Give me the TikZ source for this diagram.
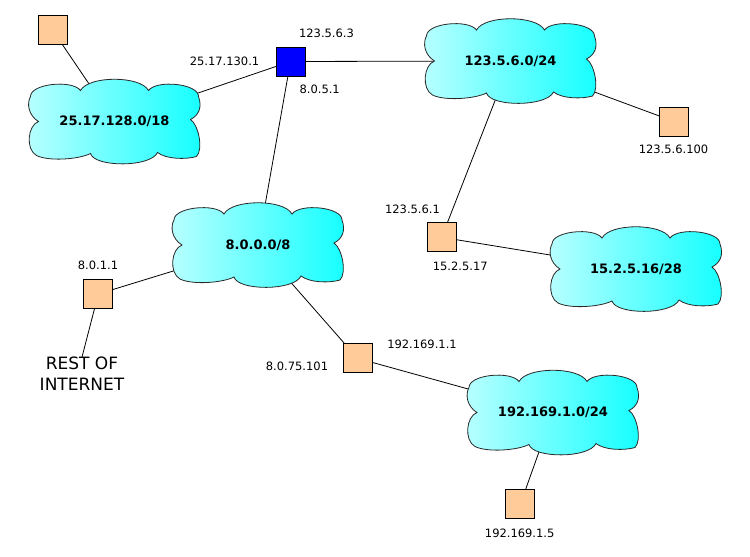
\documentclass[tikz,border=0pt]{standalone}
\usepackage{fontspec}
\setmainfont{DejaVu Sans}
\usetikzlibrary{backgrounds}
\definecolor{cloudlight}{RGB}{185,255,255}
\definecolor{clouddark}{RGB}{20,255,255}
\definecolor{peach}{RGB}{255,204,153}
\definecolor{cloudline}{RGB}{40,40,40}
\tikzset{
  x=1pt, y=-1pt,
  netcloud/.pic={
    \path[draw=cloudline, line width=0.8pt, shading=axis, left color=cloudlight, right color=clouddark]
      (-84,-25) .. controls (-84,-38) and (-42,-42) .. (-34,-31)
      .. controls (-26,-46) and (26,-46) .. (34,-31)
      .. controls (42,-42) and (84,-38) .. (84,-25)
      .. controls (88,-14) and (84,-6) .. (76,-2)
      .. controls (84,3) and (89,28) .. (82,35)
      .. controls (72,38) and (52,38) .. (43,31)
      .. controls (36,46) and (-20,46) .. (-24,32)
      .. controls (-36,38) and (-66,40) .. (-78,34)
      .. controls (-89,28) and (-87,4) .. (-76,0)
      .. controls (-86,-6) and (-88,-18) .. (-84,-25) -- cycle;
  },
  cloudlabel/.style={inner sep=0pt, font=\fontsize{13}{14}\selectfont\bfseries},
  hostbox/.style={draw=black, line width=1pt, fill=peach, minimum size=29pt, inner sep=0pt},
  routerbox/.style={hostbox, fill=blue},
  addr/.style={inner sep=0pt, font=\fontsize{11.5}{13}\selectfont},
  link/.style={draw=black, line width=0.8pt},
}
\begin{document}
\begin{tikzpicture}
\useasboundingbox (0,0) rectangle (750,557);

% clouds
\path (114.5,121.5) pic {netcloud} node[cloudlabel] (c1) {25.17.128.0/18};
\path (510.5,61) pic {netcloud} node[cloudlabel] (c2) {123.5.6.0/24};
\path (258,245) pic {netcloud} node[cloudlabel] (c3) {8.0.0.0/8};
\path (636,269) pic {netcloud} node[cloudlabel] (c4) {15.2.5.16/28};
\path (553,412.5) pic {netcloud} node[cloudlabel] (c5) {192.169.1.0/24};

% boxes
\node[hostbox] (h1) at (52.5,30) {};
\node[routerbox] (r) at (290.5,61.5) {};
\node[hostbox] (h2) at (674.3,121.5) {};
\node[hostbox] (h3) at (441.7,237.3) {};
\node[hostbox] (h4) at (98.3,294) {};
\node[hostbox] (h5) at (357.5,358.3) {};
\node[hostbox] (h6) at (520.3,504.3) {};

% address labels
\node[addr] (l1) at (326.5,33.3) {123.5.6.3};
\node[addr] (l2) at (224.5,61.7) {25.17.130.1};
\node[addr] (l3) at (319.7,89.5) {8.0.5.1};
\node[addr] (l4) at (673.5,149) {123.5.6.100};
\node[addr] (l5) at (412.5,209) {123.5.6.1};
\node[addr] (l6) at (460.3,266) {15.2.5.17};
\node[addr] (l7) at (98,265.5) {8.0.1.1};
\node[addr] (l8) at (297,366.7) {8.0.75.101};
\node[addr] (l9) at (422,344) {192.169.1.1};
\node[addr] (l10) at (519.7,533) {192.169.1.5};
\node[inner sep=0pt, align=center, font=\fontsize{17}{20.5}\selectfont] (rest) at (82,373.8) {REST OF\\INTERNET};

% connectors
\begin{pgfonlayer}{background}
\fill[white] (0,0) rectangle (750,557);
\draw[link] (h1.center) -- (c1.center);
\draw[link] (c1.center) -- (r.center);
\draw[link] (r.center) -- (c2.center);
\draw[link] (r.center) -- (c3.center);
\draw[link] (c2.center) -- (h2.center);
\draw[link] (c2.center) -- (h3.center);
\draw[link] (h3.center) -- (c4.center);
\draw[link] (c3.center) -- (h4.center);
\draw[link] (h4.center) -- (rest.north);
\draw[link] (c3.center) -- (h5.center);
\draw[link] (h5.center) -- (c5.center);
\draw[link] (c5.center) -- (h6.center);
\end{pgfonlayer}
\end{tikzpicture}
\end{document}
